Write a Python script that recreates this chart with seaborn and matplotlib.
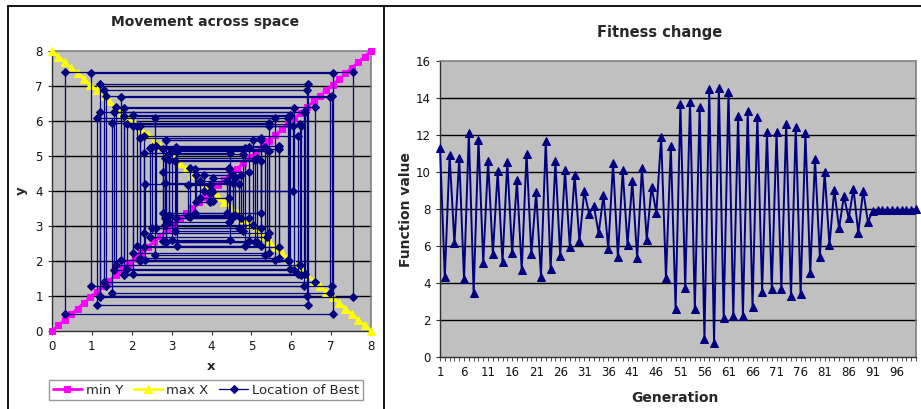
import matplotlib
matplotlib.use("Agg")
import matplotlib.pyplot as plt
import seaborn as sns
from matplotlib.lines import Line2D

# ---------------- data ----------------
# reference diagonals of the search square
diag = [0.0, 0.16, 0.32, 0.48, 0.64, 0.8, 0.96, 1.12, 1.28, 1.44, 1.6, 1.76,
        1.92, 2.08, 2.24, 2.4, 2.56, 2.72, 2.88, 3.04, 3.2, 3.36, 3.52, 3.68,
        3.84, 4.0, 4.16, 4.32, 4.48, 4.64, 4.8, 4.96, 5.12, 5.28, 5.44, 5.6,
        5.76, 5.92, 6.08, 6.24, 6.4, 6.56, 6.72, 6.88, 7.04, 7.2, 7.36, 7.52,
        7.68, 7.84, 8.0]
min_y_x = diag
min_y_y = diag
max_x_x = diag
max_x_y = diag[::-1]

# best location per generation
best_x = [5.45, 2.20, 5.70, 2.78, 5.23, 2.20, 5.95, 1.81, 6.18, 2.30,
          5.45, 3.13, 4.83, 2.47, 5.38, 3.00, 4.47, 2.30, 5.70, 2.62,
          4.70, 2.33, 5.60, 2.58, 5.35, 2.52, 5.25, 3.08, 4.78, 2.93,
          4.58, 4.03, 3.97, 3.40, 4.53, 2.83, 5.05, 2.85, 5.15, 2.83,
          4.95, 2.78, 4.95, 3.12, 4.75, 3.80, 6.05, 2.02, 5.45, 1.50,
          6.97, 1.72, 5.91, 1.14, 6.41, 1.21, 7.54, 0.32, 7.05, 0.98,
          7.03, 1.36, 6.31, 1.20, 6.40, 1.30, 6.60, 1.60, 6.23, 1.88,
          5.97, 2.02, 6.35, 1.55, 6.08, 1.80, 6.25, 2.12, 5.25, 2.85,
          5.10, 2.93, 4.43, 3.58, 4.40, 3.70, 4.45, 3.45, 4.55, 3.60,
          3.95, 3.97, 3.97, 3.97, 3.97, 3.97, 3.97, 3.97, 3.97, 4.00]
best_y = [5.85, 2.10, 5.20, 3.37, 5.52, 2.00, 6.15, 1.64, 5.57, 2.80,
          5.15, 2.42, 5.22, 2.68, 5.17, 2.60, 5.08, 2.40, 5.30, 2.93,
          4.20, 2.02, 6.10, 2.17, 5.25, 2.93, 4.85, 2.87, 5.07, 3.32,
          4.37, 3.72, 4.18, 3.30, 4.22, 3.02, 5.45, 2.55, 4.95, 3.22,
          4.55, 2.57, 5.25, 3.23, 4.45, 4.00, 5.85, 2.23, 5.95, 1.10,
          6.68, 2.03, 6.10, 0.74, 7.05, 0.98, 7.40, 0.50, 7.36, 1.30,
          6.71, 1.30, 6.26, 1.00, 6.90, 1.40, 6.40, 1.90, 5.92, 1.77,
          6.18, 1.63, 6.25, 1.75, 6.37, 1.60, 5.85, 2.43, 5.45, 2.55,
          4.90, 3.12, 4.62, 3.37, 4.30, 3.80, 4.65, 3.25, 4.45, 3.70,
          3.95, 3.98, 3.98, 3.98, 3.98, 3.98, 3.98, 3.98, 3.98, 4.00]

# function value per generation
generation = list(range(1, 101))
fitness = [11.3, 4.3, 10.9, 6.15, 10.75, 4.2, 12.1, 3.45, 11.75, 5.1,
           10.6, 5.55, 10.05, 5.15, 10.55, 5.6, 9.55, 4.7, 11.0, 5.55,
           8.9, 4.35, 11.7, 4.75, 10.6, 5.45, 10.1, 5.95, 9.85, 6.25,
           8.95, 7.75, 8.15, 6.7, 8.75, 5.85, 10.5, 5.4, 10.1, 6.05,
           9.5, 5.35, 10.2, 6.35, 9.2, 7.8, 11.9, 4.25, 11.4, 2.6,
           13.65, 3.75, 13.8, 2.6, 13.5, 1.0, 14.5, 0.75, 14.55, 2.1,
           14.35, 2.2, 13.05, 2.2, 13.3, 2.7, 13.0, 3.5, 12.15, 3.65,
           12.15, 3.65, 12.6, 3.3, 12.45, 3.4, 12.1, 4.55, 10.7, 5.4,
           10.0, 6.05, 9.05, 6.95, 8.7, 7.5, 9.1, 6.7, 9.0, 7.3,
           7.9, 7.95, 7.95, 7.95, 7.95, 7.95, 7.95, 7.95, 7.95, 8.0]

# the best location moves one coordinate at a time: x first, then y
path_x, path_y = [], []
for k in range(len(best_x)):
    path_x.append(best_x[k])
    path_y.append(best_y[k])
    if k + 1 < len(best_x):
        path_x.append(best_x[k + 1])
        path_y.append(best_y[k])

# ---------------- style ----------------
sns.set_style("white")
plt.rcParams['font.family'] = ['DejaVu Sans']

W, H = 921, 409
fig = plt.figure(figsize=(W / 100, H / 100), dpi=100)

PLOT_BG = "#C0C0C0"
NAVY = "#000080"
MAGENTA = "#FF00FF"
YELLOW = "#FFFF00"


def px_axes(x0, y_top, x1, y_bottom):
    return fig.add_axes([x0 / W, 1 - y_bottom / H, (x1 - x0) / W, (y_bottom - y_top) / H])


def style_axes(ax):
    ax.set_facecolor(PLOT_BG)
    ax.grid(False)
    for side in ("top", "right"):
        ax.spines[side].set_color("#808080")
        ax.spines[side].set_linewidth(1.2)
    for side in ("left", "bottom"):
        ax.spines[side].set_color("#303030")
        ax.spines[side].set_linewidth(1.0)
    ax.tick_params(axis="both", direction="out", length=3, width=0.8,
                   colors="#303030", labelsize=8.5, labelcolor="#111111",
                   bottom=True, left=True)


# ---------------- left panel: movement across space ----------------
axl = px_axes(52, 51, 371, 331)
style_axes(axl)
for yv in range(1, 8):
    axl.axhline(yv, color="black", lw=1.0, zorder=1)

sns.lineplot(x=min_y_x, y=min_y_y, sort=False, estimator=None, ax=axl,
             color=MAGENTA, lw=2.0, marker="s", markersize=5,
             markeredgecolor=MAGENTA, label="min Y", zorder=3)
sns.lineplot(x=max_x_x, y=max_x_y, sort=False, estimator=None, ax=axl,
             color=YELLOW, lw=2.0, marker="^", markersize=6,
             markeredgecolor=YELLOW, label="max X", zorder=3)
sns.lineplot(x=path_x, y=path_y, sort=False, estimator=None, ax=axl,
             color=NAVY, lw=0.9, marker="D", markersize=3.6,
             markeredgecolor=NAVY, label="Location of Best", zorder=4)
for ln in axl.get_lines():
    ln.set_clip_on(False)

axl.set_xlim(0, 8)
axl.set_ylim(0, 8)
axl.set_xticks(range(0, 9))
axl.set_yticks(range(0, 9))
axl.set_xlabel("")
axl.set_ylabel("")
handles, labels = axl.get_legend_handles_labels()
if axl.get_legend() is not None:
    axl.get_legend().remove()

fig.text(205 / W, 1 - 22 / H, "Movement across space", ha="center", va="center",
         fontsize=10, fontweight="bold")
fig.text(211 / W, 1 - 366 / H, "x", ha="center", va="center",
         fontsize=9.5, fontweight="bold")
fig.text(21 / W, 1 - 191 / H, "y", ha="center", va="center",
         fontsize=9.5, fontweight="bold", rotation=90)

leg = fig.legend(handles, labels, loc="center", bbox_to_anchor=(206 / W, 1 - 390 / H),
                 ncol=3, frameon=True, fancybox=False, fontsize=9.5,
                 handlelength=2.2, handletextpad=0.3, columnspacing=0.8,
                 borderpad=0.25, edgecolor="#808080")
leg.get_frame().set_linewidth(1.0)

# ---------------- right panel: fitness change ----------------
axr = px_axes(440, 61, 916, 357)
style_axes(axr)
for yv in range(2, 16, 2):
    axr.axhline(yv, color="black", lw=1.0, zorder=1)

sns.lineplot(x=generation, y=fitness, sort=False, estimator=None, ax=axr,
             color=NAVY, lw=1.4, marker="^", markersize=5.5,
             markeredgecolor=NAVY, zorder=3)
for ln in axr.get_lines():
    ln.set_clip_on(False)

axr.set_xlim(1, 100)
axr.set_ylim(0, 16)
axr.set_yticks(range(0, 17, 2))
axr.set_xticks(generation)
axr.set_xticklabels([str(g) if (g - 1) % 5 == 0 else "" for g in generation])
axr.tick_params(axis="x", length=3, width=0.6)
axr.set_xlabel("")
axr.set_ylabel("")

fig.text(660 / W, 1 - 33 / H, "Fitness change", ha="center", va="center",
         fontsize=10.5, fontweight="bold")
fig.text(675 / W, 1 - 398 / H, "Generation", ha="center", va="center",
         fontsize=10, fontweight="bold")
fig.text(406 / W, 1 - 210 / H, "Function value", ha="center", va="center",
         fontsize=10, fontweight="bold", rotation=90)

# ---------------- panel frames ----------------
for xs, ys in (([8, W], [6, 6]), ([8, 8], [6, H]), ([384, 384], [6, H])):
    fig.add_artist(Line2D([x / W for x in xs], [1 - y / H for y in ys],
                          transform=fig.transFigure, color="black", lw=1.3))

fig.savefig("out.png", dpi=100)
